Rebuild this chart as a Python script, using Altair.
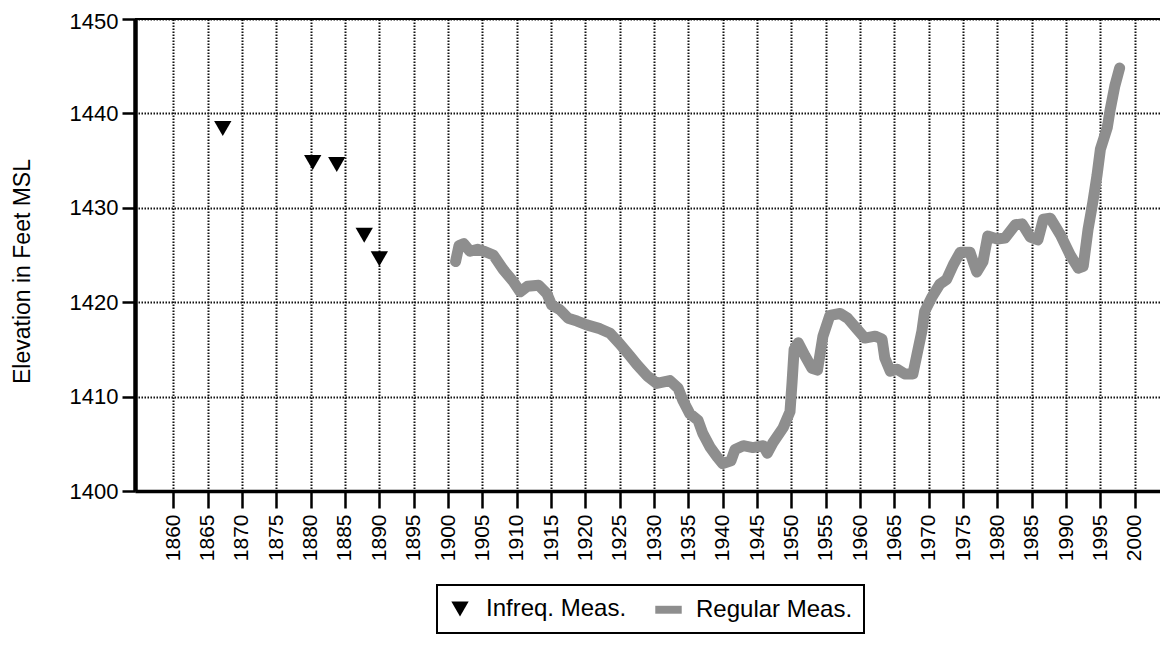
import altair as alt
import pandas as pd

# Infrequent measurements (triangles)
infreq_years = [1867.2, 1880.3, 1883.8, 1887.8, 1890.0]
infreq_elev = [1438.4, 1434.8, 1434.6, 1427.1, 1424.6]

# Regular measurements (thick line)
regular_years = [
    1901.1, 1901.6, 1902.3, 1903.2, 1904.3, 1905.2, 1906.6, 1908.0, 1909.5, 1910.5,
    1911.6, 1913.2, 1914.4, 1915.1, 1916.3, 1917.5, 1918.8, 1920.2, 1922.1, 1923.6,
    1925.0, 1926.5, 1927.5, 1929.0, 1930.4, 1932.3, 1933.5, 1934.2, 1935.2, 1936.4,
    1937.1, 1938.2, 1939.2, 1940.0, 1941.2, 1941.8, 1943.0, 1944.4, 1945.9, 1946.5,
    1947.3, 1948.8, 1949.8, 1950.1, 1950.4, 1951.0, 1952.0, 1953.0, 1953.8, 1954.6,
    1955.6, 1957.1, 1958.2, 1959.5, 1960.7, 1962.2, 1963.2, 1963.6, 1964.4, 1965.4,
    1966.5, 1967.7, 1968.3, 1969.0, 1969.4, 1970.5, 1971.6, 1972.6, 1973.6, 1974.6,
    1976.0, 1977.0, 1977.9, 1978.6, 1980.0, 1981.1, 1982.6, 1983.6, 1984.8, 1985.9,
    1986.7, 1987.7, 1989.2, 1990.6, 1991.8, 1992.5, 1993.2, 1993.9, 1994.5, 1995.0,
    1996.0, 1996.4, 1997.1, 1997.8,
]
regular_elev = [
    1424.3, 1426.0, 1426.2, 1425.4, 1425.6, 1425.4, 1425.0, 1423.5, 1422.2, 1421.1,
    1421.7, 1421.8, 1420.9, 1419.7, 1419.2, 1418.3, 1418.0, 1417.6, 1417.2, 1416.7,
    1415.6, 1414.3, 1413.4, 1412.2, 1411.4, 1411.7, 1410.9, 1409.6, 1408.2, 1407.5,
    1406.1, 1404.6, 1403.6, 1402.9, 1403.2, 1404.4, 1404.8, 1404.6, 1404.8, 1404.0,
    1405.1, 1406.7, 1408.4, 1411.5, 1415.0, 1415.7, 1414.3, 1413.0, 1412.8, 1416.4,
    1418.6, 1418.8, 1418.3, 1417.2, 1416.2, 1416.4, 1416.1, 1414.1, 1412.7, 1412.9,
    1412.4, 1412.4, 1414.5, 1416.9, 1419.0, 1420.6, 1421.9, 1422.4, 1424.0, 1425.3,
    1425.3, 1423.2, 1424.3, 1427.0, 1426.7, 1426.8, 1428.2, 1428.3, 1426.9, 1426.6,
    1428.8, 1428.9, 1427.1, 1425.0, 1423.6, 1423.8, 1427.7, 1430.6, 1433.4, 1436.2,
    1438.5, 1440.3, 1442.9, 1444.8,
]

series_names = ["Infreq. Meas.", "Regular Meas."]
x_ticks = list(range(1860, 2001, 5))
y_ticks = list(range(1400, 1451, 10))
top_value = [1450]

FONT = "Liberation Sans"
GRAY = "#8e8e8e"

infreq_df = pd.DataFrame({"year": infreq_years, "elev": infreq_elev, "series": series_names[0]})
regular_df = pd.DataFrame({"year": regular_years, "elev": regular_elev})
top_df = pd.DataFrame({"elev": top_value})

x_enc = alt.X(
    "year:Q",
    scale=alt.Scale(domain=[1854.42, 2003.68], nice=False, zero=False),
    axis=alt.Axis(
        values=x_ticks, format="d", labelAngle=270, labelFont=FONT, labelFontSize=21,
        labelColor="black", labelPadding=6, labelFlush=False,
        tickSize=17, tickWidth=2.5, tickColor="black",
        domainColor="black", domainWidth=3.5,
        grid=True, gridColor="#111111", gridDash=[1.5, 1.5], gridWidth=2,
        title=None,
    ),
)
y_enc = alt.Y(
    "elev:Q",
    scale=alt.Scale(domain=[1400, 1450], nice=False, zero=False),
    axis=alt.Axis(
        values=y_ticks, format="d", labelFont=FONT, labelFontSize=22, labelColor="black",
        labelPadding=4, labelFlush=False,
        labelOffset={"condition": {"test": "datum.value == 1450", "value": 2}, "value": 0},
        tickSize=13, tickWidth=2.5, tickColor="black",
        domainColor="black", domainWidth=4.5,
        grid=True, gridColor="#111111", gridDash=[1.5, 1.5], gridWidth=2,
        title="Elevation in Feet MSL", titleFont=FONT, titleFontSize=23,
        titleFontWeight="normal", titleColor="black",
        titleAngle=270, titleAlign="center", titleBaseline="middle",
        titleX=-113, titleY=252,
    ),
)

leg = alt.Legend(
    orient="none", legendX=302, legendY=566, direction="horizontal", title=None,
    strokeColor="black", fillColor="white", padding=11,
    labelFont=FONT, labelFontSize=24, labelColor="black", labelOffset=14,
    columnPadding=28, symbolStrokeWidth=0,
)

line = alt.Chart(regular_df).mark_line(
    color=GRAY, strokeWidth=11, strokeCap="round", strokeJoin="round"
).encode(x=x_enc, y=y_enc)

points = alt.Chart(infreq_df).mark_point(filled=True, opacity=1).encode(
    x=x_enc,
    y=y_enc,
    color=alt.Color("series:N", scale=alt.Scale(domain=series_names, range=["black", GRAY]), legend=leg),
    shape=alt.Shape("series:N", scale=alt.Scale(domain=series_names,
                    range=["triangle-down", "M-1,-0.3L1,-0.3L1,0.3L-1,0.3Z"]), legend=leg),
    size=alt.Size("series:N", scale=alt.Scale(domain=series_names, range=[300, 700]), legend=leg),
)

top_rule = alt.Chart(top_df).mark_rule(color="black", strokeWidth=2).encode(y=y_enc)

chart = alt.layer(line, points, top_rule).properties(
    width=1025,
    height=472,
    autosize=alt.AutoSizeParams(type="none"),
    padding={"left": 127, "top": 11, "right": 0, "bottom": 147},
    background="white",
).configure_view(stroke=None).configure_legend(strokeWidth=2)

chart.save("out.html", embed_options={"renderer": "svg", "actions": False})
